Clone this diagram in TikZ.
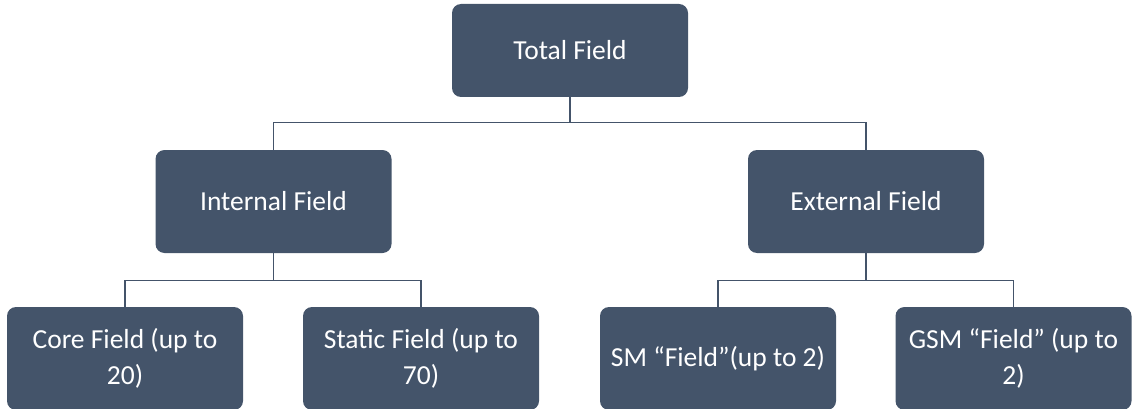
\documentclass[tikz,border=0pt]{standalone}
\usepackage{fontspec}
\setmainfont{Carlito}
\usetikzlibrary{positioning}
\definecolor{slatebox}{HTML}{44546A}
\tikzset{fieldbox/.style={rectangle,draw=none,fill=slatebox,text=white,rounded corners=9pt,
inner sep=2pt,minimum height=103pt, minimum width=236pt,align=center,
font=\fontsize{27.5}{36}\selectfont}}
\tikzset{fieldline/.style={draw=slatebox,line width=1.4pt}}

\begin{document}
\begin{tikzpicture}[x=1pt,y=1pt]
        \useasboundingbox (0,0) rectangle (1132,-409);

        \node[fieldbox,minimum height=93pt] (total) at (570,-50.5) {Total Field};

        \node[fieldbox] (internal) at ([yshift=-151pt,xshift=-296.5pt]total) {Internal Field};
        \node[fieldbox] (external) at ([yshift=-151pt,xshift=296pt]total) {External Field};

        \node[fieldbox] (core) at ([yshift=-157pt,xshift=-148.5pt]internal) {Core Field (up to\\20)};
        \node[fieldbox] (static) at ([yshift=-157pt,xshift=147.5pt]internal) {Static Field (up to\\70)};
        \node[fieldbox] (sm) at ([yshift=-157pt,xshift=-148pt]external) {SM “Field”(up to 2)};
        \node[fieldbox] (gsm) at ([yshift=-157pt,xshift=147.5pt]external) {GSM “Field” (up to\\2)};

        % level one
        \draw[fieldline] (total.south) -- ++(0,-25.5) -| (internal.north);
        \draw[fieldline] (total.south) -- ++(0,-25.5) -| (external.north);

        % level two
        \draw[fieldline] (internal.south) -- ++(0,-27) -| (core.north);
        \draw[fieldline] (internal.south) -- ++(0,-27) -| (static.north);
        \draw[fieldline] (external.south) -- ++(0,-27) -| (sm.north);
        \draw[fieldline] (external.south) -- ++(0,-27) -| (gsm.north);

    \end{tikzpicture}
\end{document}
